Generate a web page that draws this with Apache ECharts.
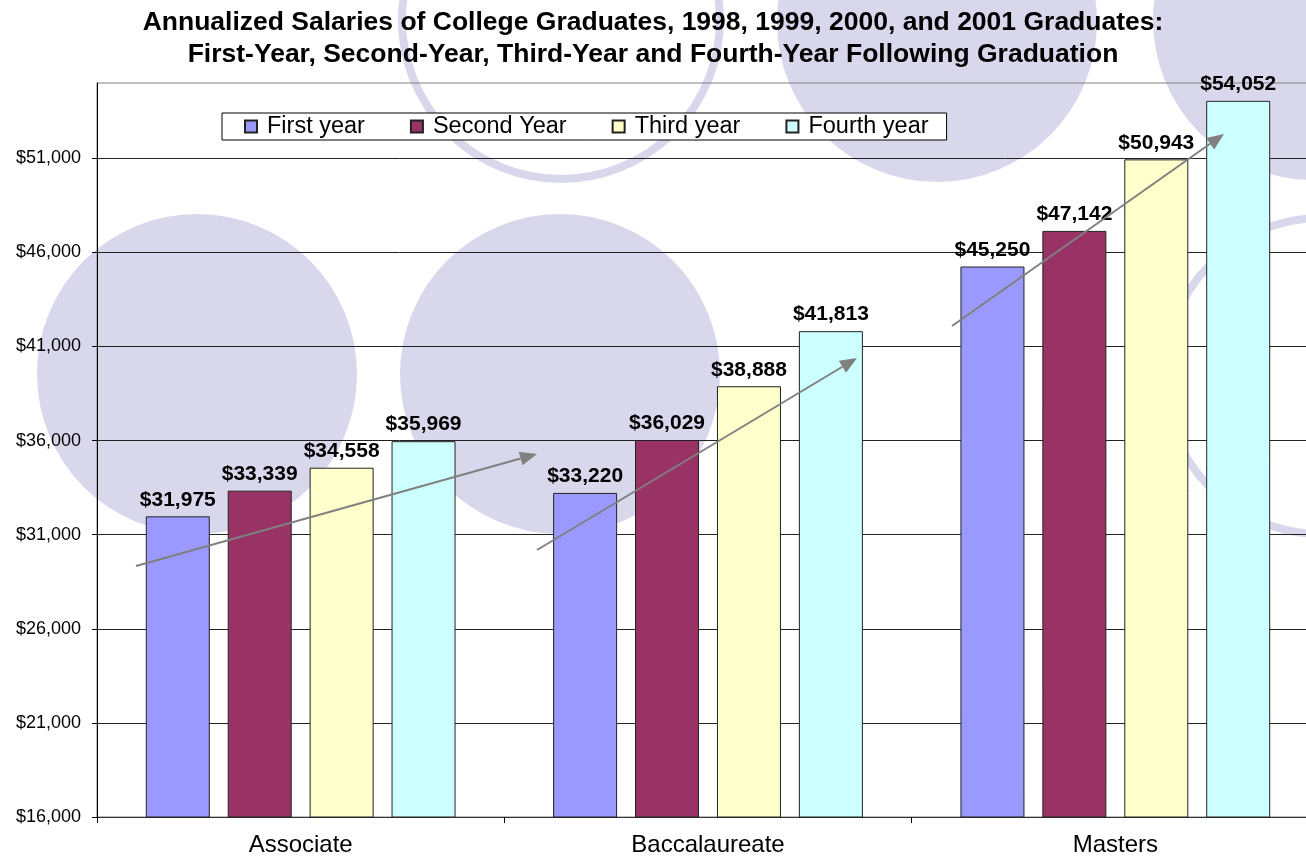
<!DOCTYPE html>
<html><head><meta charset="utf-8">
<script src="https://cdn.jsdelivr.net/npm/echarts@6/dist/echarts.min.js"></script>
<style>html,body{margin:0;padding:0;background:#fff}#c{width:1306px;height:859px}</style>
</head><body><div id="c"></div>
<script>
// ---- data ----
const categories = ['Associate', 'Baccalaureate', 'Masters'];
const seriesNames = ['First year', 'Second Year', 'Third year', 'Fourth year'];
const firstYear  = [31975, 33220, 45250];
const secondYear = [33339, 36029, 47142];
const thirdYear  = [34558, 38888, 50943];
const fourthYear = [35969, 41813, 54052];
const yMin = 16000, yMax = 55000, yStep = 5000;

// ---- styling ----
const FONT = '"Liberation Sans", Arial, sans-serif';
const colors = ['#9999FF', '#993366', '#FFFFCC', '#CCFFFF'];
const LAV = '#D9D7EC';
const money = v => '$' + Number(v).toLocaleString('en-US');

const chart = echarts.init(document.getElementById('c'), null, {renderer: 'canvas'});

function makeSeries(name, data, color) {
  return {
    name, type: 'bar', data,
    barWidth: 64, barGap: '28%',
    itemStyle: {color, borderColor: '#222', borderWidth: 1},
    label: {
      show: true, position: 'top', distance: 6,
      formatter: p => money(p.value),
      fontFamily: FONT, fontWeight: 'bold', fontSize: 21, color: '#000'
    }
  };
}

// decorative background circles
const deco = [
  {type: 'circle', shape: {cx: 197, cy: 374, r: 160}, style: {fill: LAV}},
  {type: 'circle', shape: {cx: 560, cy: 374, r: 160}, style: {fill: LAV}},
  {type: 'circle', shape: {cx: 561, cy: 20, r: 159}, style: {fill: 'none', stroke: LAV, lineWidth: 8}},
  {type: 'circle', shape: {cx: 937, cy: 22, r: 160}, style: {fill: LAV}},
  {type: 'circle', shape: {cx: 1313, cy: 20, r: 160}, style: {fill: LAV}},
  {type: 'circle', shape: {cx: 1322, cy: 376, r: 158}, style: {fill: 'none', stroke: LAV, lineWidth: 8}}
].map(g => Object.assign(g, {z: -10, silent: true}));

// trend arrows (annotations)
function arrow(x1, y1, x2, y2) {
  const dx = x2 - x1, dy = y2 - y1, len = Math.hypot(dx, dy);
  const ux = dx / len, uy = dy / len, hl = 17, hw = 7;
  const bx = x2 - ux * hl, by = y2 - uy * hl;
  return [
    {type: 'line', shape: {x1, y1, x2: bx, y2: by}, style: {stroke: '#808080', lineWidth: 2}, z: 10, silent: true},
    {type: 'polygon', shape: {points: [[x2, y2], [bx - uy * hw, by + ux * hw], [bx + uy * hw, by - ux * hw]]},
     style: {fill: '#808080'}, z: 10, silent: true}
  ];
}
const arrows = [].concat(
  arrow(136, 566, 537, 454),
  arrow(537, 550, 857, 358),
  arrow(952, 326, 1224, 134)
);

chart.setOption({
  animation: false,
  backgroundColor: '#fff',
  color: colors,
  title: {
    text: 'Annualized Salaries of College Graduates, 1998, 1999, 2000, and 2001 Graduates:\nFirst-Year, Second-Year, Third-Year and Fourth-Year Following Graduation',
    left: 'center', top: 2,
    textStyle: {fontFamily: FONT, fontSize: 26.5, fontWeight: 'bold', lineHeight: 32, color: '#000'}
  },
  legend: {
    data: seriesNames,
    left: 222, top: 113,
    itemWidth: 12, itemHeight: 12, itemGap: 45,
    padding: [1.5, 18, 1.5, 22],
    borderColor: '#000', borderWidth: 1, backgroundColor: '#fff',
    icon: 'rect',
    textStyle: {fontFamily: FONT, fontSize: 23.5, color: '#000', padding: [0, 0, 0, 5]}
  },
  grid: {left: 97, top: 83, width: 1222, bottom: 42, outerBoundsMode: 'none', show: true, borderColor: '#808080', borderWidth: 1, backgroundColor: 'transparent'},
  xAxis: {
    type: 'category', data: categories,
    axisLine: {lineStyle: {color: '#333', width: 1}},
    axisTick: {show: true, length: 6, lineStyle: {color: '#000'}},
    axisLabel: {fontFamily: FONT, fontSize: 24, color: '#000', margin: 16},
    splitLine: {show: false}
  },
  yAxis: {
    type: 'value', min: yMin, max: yMax, interval: yStep,
    axisLine: {show: true, lineStyle: {color: '#000'}},
    axisTick: {show: true, length: 5, lineStyle: {color: '#000'}},
    axisLabel: {formatter: v => money(v), fontFamily: FONT, fontSize: 18, color: '#000', margin: 16, showMaxLabel: false},
    splitLine: {show: true, showMaxLine: false, lineStyle: {color: '#222', width: 1}}
  },
  series: [
    makeSeries(seriesNames[0], firstYear, colors[0]),
    makeSeries(seriesNames[1], secondYear, colors[1]),
    makeSeries(seriesNames[2], thirdYear, colors[2]),
    makeSeries(seriesNames[3], fourthYear, colors[3])
  ],
  graphic: deco.concat(arrows)
});
</script>
</body></html>
